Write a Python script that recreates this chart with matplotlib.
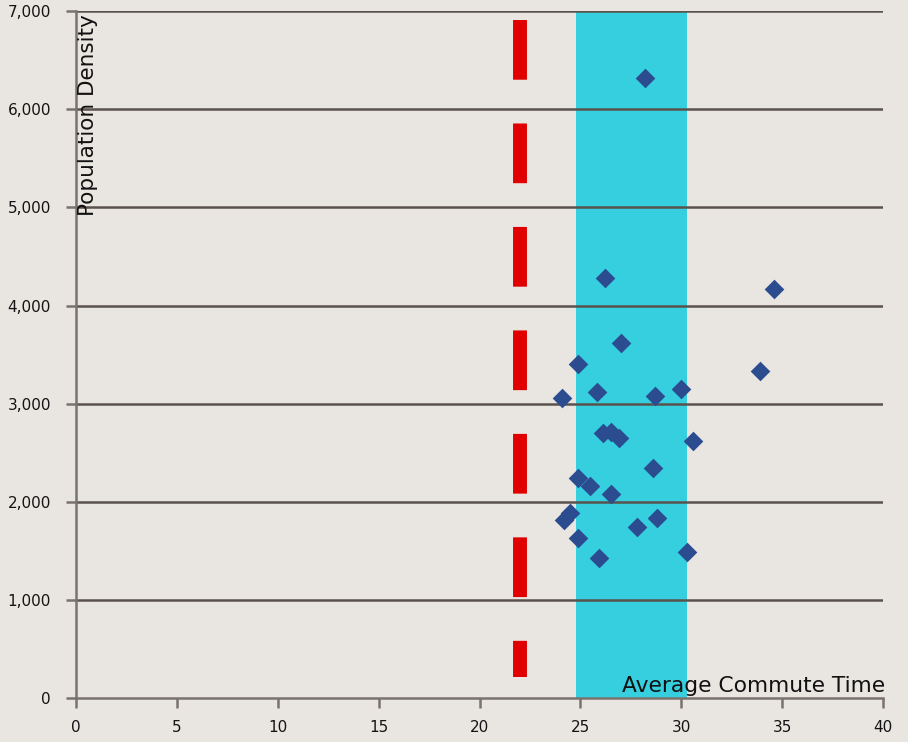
import numpy as np
import matplotlib.pyplot as plt

# average commute time (minutes) vs population density
commute = [28.2, 26.2, 34.6, 27.0, 24.9, 33.9, 24.1, 25.8, 28.7, 30.0,
           26.1, 26.5, 26.9, 30.6, 28.6, 24.9, 25.5, 26.5, 24.5, 24.2,
           27.8, 28.8, 24.9, 25.9, 30.3]
density = [6320, 4280, 4170, 3620, 3400, 3330, 3060, 3120, 3080, 3150,
           2700, 2710, 2650, 2620, 2340, 2240, 2160, 2080, 1890, 1810,
           1740, 1830, 1630, 1430, 1490]

band_lo, band_hi = 24.8, 30.3   # highlighted commute range
threshold = 22                  # red dashed marker
thr_top, thr_bottom = 6910, 215

xticks = [0, 5, 10, 15, 20, 25, 30, 35, 40]
yticks = [0, 1000, 2000, 3000, 4000, 5000, 6000, 7000]

bg = '#e9e5e1'
fig = plt.figure(figsize=(9.08, 7.42), dpi=100, facecolor=bg)
ax = fig.add_axes([0.0837, 0.0593, 0.8888, 0.9257])
ax.set_facecolor(bg)

ax.axvspan(band_lo, band_hi, color='#36cfdf', zorder=1, lw=0)

for yv in yticks[1:]:
    ax.axhline(yv, color='#5a524d', lw=1.8, zorder=2)

ax.plot([threshold, threshold], [thr_top, thr_bottom], color='#e00000', lw=10,
        dashes=(4.3, 3.15), solid_capstyle='round', dash_capstyle='butt', zorder=3)

ax.scatter(commute, density, marker='D', s=100, color='#2c4c90', zorder=4,
           linewidths=0)

ax.set_xlim(0, 40)
ax.set_ylim(0, 7000)
ax.set_xticks(xticks)
ax.set_yticks(yticks)
ax.set_yticklabels([f'{v:,}' for v in yticks])
for s in ['top', 'right']:
    ax.spines[s].set_visible(False)
for s in ['left', 'bottom']:
    ax.spines[s].set_color('#7a726c')
    ax.spines[s].set_linewidth(1.8)
ax.tick_params(direction='out', length=7, width=1.8, color='#7a726c',
               labelsize=11, labelcolor='#141414')
ax.tick_params(axis='x', pad=9)
ax.tick_params(axis='y', pad=11)

ax.text(0.003, 0.996, 'Population Density', transform=ax.transAxes,
        rotation=90, ha='left', va='top', fontsize=15.5, color='#111111')
ax.text(1.002, 0.003, 'Average Commute Time', transform=ax.transAxes,
        ha='right', va='bottom', fontsize=15.7, color='#111111')

fig.savefig('out.png', dpi=100, facecolor=bg)
